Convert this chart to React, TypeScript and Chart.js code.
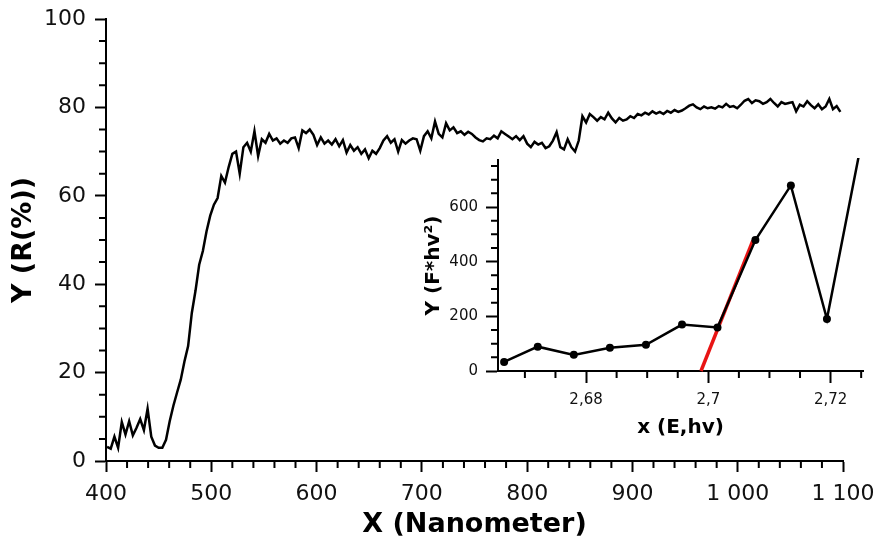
import { useEffect, useRef } from 'react';
import { Chart, registerables } from 'chart.js';

Chart.register(...registerables);

const FONT = "'DejaVu Sans', Verdana, sans-serif";

// Main spectrum: uniformly sampled wavelengths (nm)
const WL_START = 401;
const WL_STEP = 3.5;
const REFLECTANCE = [
  3.2, 2.8, 5.5, 3.0, 8.8, 6.0, 9.0, 5.8, 7.5, 9.5,
  7.0, 11.8, 5.5, 3.5, 3.0, 3.0, 4.8, 9.0, 12.5, 15.5,
  18.4, 22.5, 26.0, 33.5, 38.5, 44.4, 47.5, 52.0, 55.5, 58.0,
  59.5, 64.5, 63.0, 66.5, 69.5, 70.0, 65.0, 71.0, 72.0, 70.0,
  74.6, 69.0, 72.8, 72.0, 74.0, 72.5, 73.0, 71.8, 72.5, 72.0,
  73.0, 73.2, 70.8, 74.8, 74.2, 75.0, 73.8, 71.5, 73.2, 71.8,
  72.5, 71.6, 72.8, 71.2, 72.6, 69.8, 71.5, 70.2, 71.0, 69.5,
  70.5, 68.5, 70.2, 69.5, 70.8, 72.5, 73.5, 72.0, 72.8, 70.0,
  72.6, 71.8, 72.5, 73.0, 72.8, 70.2, 73.5, 74.6, 73.0, 76.8,
  74.0, 73.2, 76.4, 74.8, 75.5, 74.2, 74.6, 73.8, 74.5, 74.0,
  73.2, 72.6, 72.3, 73.0, 72.8, 73.6, 73.0, 74.6, 74.0, 73.4,
  72.8, 73.5, 72.6, 73.5, 71.8, 71.0, 72.2, 71.6, 72.0, 70.8,
  71.2, 72.5, 74.4, 71.0, 70.5, 72.8, 71.0, 70.0, 72.5, 78.0,
  76.6, 78.5, 77.8, 77.0, 77.8, 77.3, 78.8, 77.5, 76.6, 77.6,
  77.0, 77.3, 78.0, 77.6, 78.5, 78.2, 78.8, 78.4, 79.1, 78.6,
  79.0, 78.5, 79.2, 78.8, 79.4, 79.0, 79.3, 79.8, 80.4, 80.7,
  80.0, 79.6, 80.2, 79.8, 80.0, 79.7, 80.3, 80.0, 80.8, 80.1,
  80.3, 79.8, 80.6, 81.5, 81.9, 81.0, 81.6, 81.4, 80.8, 81.2,
  81.9, 81.0, 80.2, 81.2, 80.8, 81.0, 81.2, 79.1, 80.6, 80.2,
  81.4, 80.5, 79.8, 80.7, 79.6, 80.2, 81.9, 79.6, 80.3, 79.0,
];
const WAVELENGTHS = REFLECTANCE.map((_, i) => WL_START + i * WL_STEP);
const MAIN_X_TICKS = [400, 500, 600, 700, 800, 900, 1000, 1100];
const MAIN_Y_TICKS = [0, 20, 40, 60, 80, 100];

// Inset: Tauc plot
const INSET_E = [2.6666, 2.6721, 2.678, 2.6839, 2.6898, 2.6957, 2.7015, 2.7077, 2.7135, 2.7194, 2.7252];
const INSET_Y = [33, 89, 59, 85, 96, 170, 159, 479, 679, 190, 855];
const FIT_E = [2.6988, 2.7073];
const FIT_Y = [0, 478];
const INSET_X_TICKS = [2.68, 2.7, 2.72];
const INSET_Y_TICKS = [0, 200, 400, 600];

type Minor = { scale: string; step: number; ratio: number; length: number; width: number; color: string };

function makeMinorTicks(list: Minor[]) {
  return {
    id: 'minorTicks',
    afterDraw(chart: any) {
      const ctx = chart.ctx;
      ctx.save();
      for (const m of list) {
        const scale = chart.scales[m.scale];
        if (!scale) continue;
        ctx.strokeStyle = m.color;
        ctx.lineWidth = m.width;
        ctx.lineCap = 'butt';
        ctx.beginPath();
        const k0 = Math.ceil(scale.min / m.step - 1e-9);
        const k1 = Math.floor(scale.max / m.step + 1e-9);
        for (let k = k0; k <= k1; k++) {
          if (k % m.ratio === 0) continue;
          const p = scale.getPixelForValue(k * m.step);
          if (scale.isHorizontal()) {
            ctx.moveTo(p, scale.top);
            ctx.lineTo(p, scale.top + m.length);
          } else {
            ctx.moveTo(scale.right - m.length, p);
            ctx.lineTo(scale.right, p);
          }
        }
        ctx.stroke();
      }
      ctx.restore();
    },
  };
}

function fmtThousands(v: number) {
  const n = Math.round(v);
  if (n >= 1000) return `${Math.floor(n / 1000)} ${String(n % 1000).padStart(3, '0')}`;
  return String(n);
}

function fmtComma(v: number) {
  return String(Number(Number(v).toFixed(3))).replace('.', ',');
}

const fixTicks = (values: number[]) => (s: any) => {
  s.ticks = values.map((value) => ({ value }));
};

export default function App() {
  const mainRef = useRef<HTMLCanvasElement>(null);
  const insetRef = useRef<HTMLCanvasElement>(null);

  useEffect(() => {
    const axisCommon = {
      grid: { drawOnChartArea: false, drawTicks: true, tickLength: 11, tickWidth: 2, tickColor: '#000' },
      border: { display: true, color: '#000', width: 2 },
    };
    const main = new Chart(mainRef.current!, {
      type: 'line',
      data: {
        datasets: [
          {
            data: WAVELENGTHS.map((x, i) => ({ x, y: REFLECTANCE[i] })),
            borderColor: '#000',
            borderWidth: 2.5,
            pointRadius: 0,
            tension: 0,
            fill: false,
          },
        ],
      },
      options: {
        responsive: false,
        animation: false,
        devicePixelRatio: 1,
        layout: { padding: { left: 0, top: 19, right: 36, bottom: 0 } },
        plugins: { legend: { display: false }, tooltip: { enabled: false } },
        scales: {
          x: {
            type: 'linear',
            min: 400,
            max: 1100,
            afterBuildTicks: fixTicks(MAIN_X_TICKS),
            afterFit: (s: any) => { s.height = 86; s.paddingLeft = 0; s.paddingRight = 0; },
            ...axisCommon,
            ticks: {
              padding: 9, color: '#111', maxRotation: 0, autoSkip: false,
              font: { family: FONT, size: 22 },
              callback: (v: any) => fmtThousands(Number(v)),
            },
            title: {
              display: true, text: 'X (Nanometer)', color: '#000',
              font: { family: FONT, size: 27, weight: 'bold', lineHeight: 1.2 },
              padding: { top: 0, bottom: 6 },
            },
          },
          y: {
            type: 'linear',
            min: 0,
            max: 100,
            afterBuildTicks: fixTicks(MAIN_Y_TICKS),
            afterFit: (s: any) => { s.width = 106; s.paddingTop = 0; s.paddingBottom = 0; },
            ...axisCommon,
            ticks: {
              padding: 9, color: '#111', autoSkip: false,
              font: { family: FONT, size: 22 },
            },
            title: {
              display: true, text: 'Y (R(%))', color: '#000',
              font: { family: FONT, size: 27, weight: 'bold', lineHeight: 1.2 },
              padding: { top: 8, bottom: 0 },
            },
          },
        },
      } as any,
      plugins: [
        makeMinorTicks([
          { scale: 'x', step: 20, ratio: 5, length: 7, width: 2, color: '#000' },
          { scale: 'y', step: 5, ratio: 4, length: 7, width: 2, color: '#000' },
        ]),
      ],
    });

    const insetAxis = {
      grid: { drawOnChartArea: false, drawTicks: true, tickLength: 12, tickWidth: 2, tickColor: '#000' },
      border: { display: true, color: '#000', width: 2 },
    };
    const inset = new Chart(insetRef.current!, {
      type: 'line',
      data: {
        datasets: [
          {
            data: INSET_E.map((x, i) => ({ x, y: INSET_Y[i] })),
            borderColor: '#000',
            borderWidth: 2.5,
            pointRadius: 4,
            pointBackgroundColor: '#000',
            pointBorderColor: '#000',
            pointBorderWidth: 0,
            tension: 0,
            clip: 2,
            order: 0,
          },
          {
            data: FIT_E.map((x, i) => ({ x, y: FIT_Y[i] })),
            borderColor: '#e81414',
            borderWidth: 3.5,
            pointRadius: 0,
            tension: 0,
            clip: 2,
            order: 1,
          },
        ],
      },
      options: {
        responsive: false,
        animation: false,
        devicePixelRatio: 1,
        layout: { padding: { left: 0, top: 20, right: 16, bottom: 0 } },
        plugins: { legend: { display: false }, tooltip: { enabled: false } },
        scales: {
          x: {
            type: 'linear',
            min: 2.6656,
            max: 2.7253,
            afterBuildTicks: fixTicks(INSET_X_TICKS),
            afterFit: (s: any) => { s.height = 74; s.paddingLeft = 0; s.paddingRight = 0; },
            ...insetAxis,
            ticks: {
              padding: 8, color: '#111', maxRotation: 0, autoSkip: false,
              font: { family: FONT, size: 15 },
              callback: (v: any) => fmtComma(Number(v)),
            },
            title: {
              display: true, text: 'x (E,hv)', color: '#000',
              font: { family: FONT, size: 20, weight: 'bold', lineHeight: 1.2 },
              padding: { top: 0, bottom: 5 },
            },
          },
          y: {
            type: 'linear',
            min: 0,
            max: 772,
            afterBuildTicks: fixTicks(INSET_Y_TICKS),
            afterFit: (s: any) => { s.width = 83; s.paddingTop = 0; s.paddingBottom = 0; },
            ...insetAxis,
            ticks: {
              padding: 8, color: '#111', autoSkip: false,
              font: { family: FONT, size: 15 },
            },
            title: {
              display: true, text: 'Y (F*hv²)', color: '#000',
              font: { family: FONT, size: 20, weight: 'bold', lineHeight: 1.2 },
              padding: { top: 7, bottom: 0 },
            },
          },
        },
      } as any,
      plugins: [
        makeMinorTicks([
          { scale: 'x', step: 0.005, ratio: 4, length: 7, width: 2, color: '#000' },
          { scale: 'y', step: 50, ratio: 4, length: 7, width: 2, color: '#000' },
        ]),
      ],
    });

    return () => {
      main.destroy();
      inset.destroy();
    };
  }, []);

  return (
    <div style={{ position: 'absolute', left: 0, top: 0, width: 879, height: 547, background: '#fff' }}>
      <canvas
        ref={mainRef}
        width={879}
        height={547}
        style={{ position: 'absolute', left: 0, top: 0, width: 879, height: 547 }}
      />
      <canvas
        ref={insetRef}
        width={464}
        height={305}
        style={{ position: 'absolute', left: 415, top: 140, width: 464, height: 305 }}
      />
    </div>
  );
}
